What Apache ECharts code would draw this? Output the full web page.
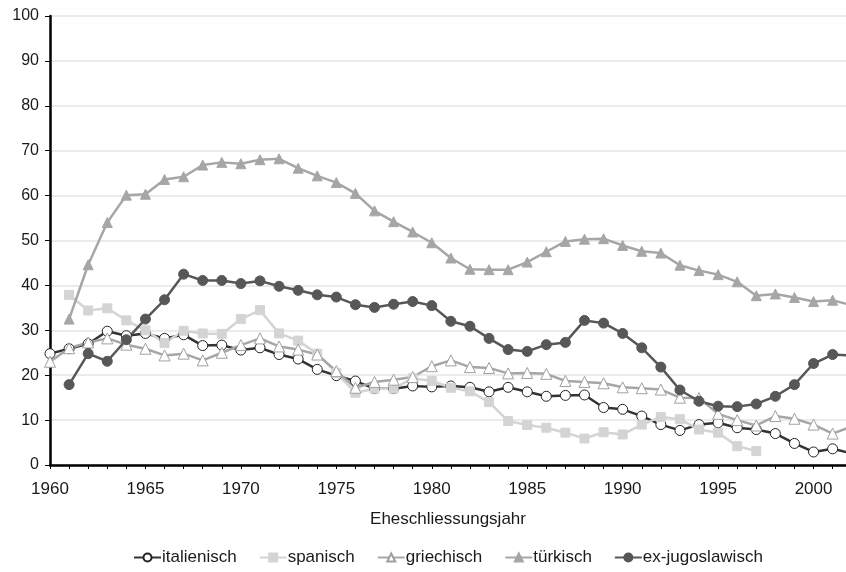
<!DOCTYPE html>
<html>
<head>
<meta charset="utf-8">
<script src="https://cdn.jsdelivr.net/npm/echarts@6/dist/echarts.min.js"></script>
<style>
  html, body { margin: 0; padding: 0; background: #fff; }
  #chart { width: 846px; height: 572px; }
</style>
</head>
<body>
<div id="chart"></div>
<script>
// Jahre 1960 bis 2002
var years = [];
for (var y = 1960; y <= 2002; y++) years.push(y);

var seriesNames = ['italienisch', 'spanisch', 'griechisch', 'türkisch', 'ex-jugoslawisch'];

// Werte pro Jahr (null = kein Wert)
var italienisch = [24.8, 25.9, 27.0, 29.8, 28.8, 29.3, 28.2, 29.0, 26.6, 26.7, 25.6, 26.1, 24.6, 23.6, 21.3,
  19.9, 18.7, 17.0, 17.0, 17.6, 17.4, 17.6, 17.3, 16.3, 17.3, 16.3, 15.3, 15.5, 15.6, 12.8,
  12.4, 10.9, 9.0, 7.7, 9.0, 9.4, 8.3, 7.9, 7.0, 4.8, 2.9, 3.6, 2.6];
var spanisch = [null, 37.9, 34.4, 34.9, 32.2, 30.0, 27.2, 29.9, 29.3, 29.2, 32.5, 34.5, 29.3, 27.7, 24.8,
  20.5, 16.1, 17.0, 17.0, 19.3, 18.7, 17.2, 16.4, 14.0, 9.8, 8.9, 8.3, 7.2, 5.9, 7.3,
  6.8, 9.0, 10.7, 10.2, 7.9, 7.2, 4.2, 3.1, null, null, null, null, null];
var griechisch = [23.0, 26.0, 27.3, 28.2, 26.8, 25.9, 24.4, 24.8, 23.3, 25.0, 26.7, 28.2, 26.4, 25.7, 24.6,
  20.9, 17.2, 18.5, 19.0, 19.6, 22.0, 23.3, 21.8, 21.6, 20.4, 20.5, 20.3, 18.7, 18.5, 18.2,
  17.3, 17.1, 16.8, 15.0, 14.9, 11.4, 10.0, 8.8, 10.9, 10.3, 9.0, 7.0, 8.6];
var tuerkisch = [null, 32.5, 44.6, 54.0, 60.1, 60.3, 63.6, 64.2, 66.8, 67.4, 67.1, 68.0, 68.2, 66.1, 64.4,
  62.9, 60.5, 56.6, 54.2, 51.9, 49.5, 46.1, 43.6, 43.5, 43.5, 45.2, 47.5, 49.8, 50.3, 50.4,
  48.9, 47.6, 47.2, 44.5, 43.3, 42.4, 40.8, 37.7, 38.1, 37.3, 36.4, 36.7, 35.6];
var jugoslawisch = [null, 17.9, 24.8, 23.1, 27.9, 32.5, 36.8, 42.5, 41.1, 41.1, 40.4, 41.0, 39.8, 38.9, 37.9,
  37.4, 35.7, 35.1, 35.8, 36.4, 35.5, 32.0, 30.9, 28.2, 25.7, 25.3, 26.8, 27.3, 32.2, 31.6,
  29.3, 26.1, 21.8, 16.7, 14.2, 13.1, 13.0, 13.6, 15.3, 17.9, 22.6, 24.6, 24.4];

function pairs(vals) {
  return years.map(function (yr, i) { return [yr, vals[i]]; });
}

var chart = echarts.init(document.getElementById('chart'));

var font = 'Liberation Sans, Arial, sans-serif';

function lineSeries(name, vals, lineColor, symbol, fill, border, size) {
  return {
    name: name,
    type: 'line',
    data: pairs(vals),
    symbol: symbol,
    symbolSize: size,
    showAllSymbol: true,
    connectNulls: false,
    clip: true,
    lineStyle: { color: lineColor, width: 2.5 },
    itemStyle: { color: fill, borderColor: border, borderWidth: 1 },
    emphasis: { disabled: true }
  };
}

chart.setOption({
  animation: false,
  backgroundColor: '#ffffff',
  textStyle: { fontFamily: font },
  grid: { left: 50, right: 0, top: 16, bottom: 107, containLabel: false },
  legend: {
    bottom: 1,
    left: 128,
    itemWidth: 27,
    itemHeight: 10,
    itemGap: 22,
    textStyle: { fontSize: 17, color: '#1a1a1a', fontFamily: font, padding: [0, 0, 0, -4] },
    data: seriesNames
  },
  xAxis: {
    type: 'value',
    min: 1960,
    max: 2001.7,
    interval: 1,
    name: 'Eheschliessungsjahr',
    nameLocation: 'middle',
    nameGap: 46,
    nameTextStyle: { fontSize: 17, color: '#1a1a1a' },
    axisLine: { show: true, onZero: false, lineStyle: { color: '#000', width: 2.5 } },
    axisTick: { show: true, length: 4, lineStyle: { color: '#000', width: 1 } },
    axisLabel: {
      fontSize: 17, color: '#1a1a1a', margin: 16,
      showMaxLabel: false,
      formatter: function (v) { return v % 5 === 0 ? String(v) : ''; }
    },
    splitLine: { show: false }
  },
  yAxis: {
    type: 'value',
    min: 0,
    max: 100,
    interval: 10,
    axisLine: { show: true, lineStyle: { color: '#000', width: 2.5 } },
    axisTick: { show: true, length: 5, lineStyle: { color: '#000', width: 1 } },
    axisLabel: { fontSize: 16, color: '#1a1a1a', margin: 11 },
    splitLine: { show: true, lineStyle: { color: '#e4e4e4', width: 1.5 } }
  },
  series: [
    lineSeries('italienisch', italienisch, '#333333', 'circle', '#ffffff', '#222222', 10),
    lineSeries('spanisch', spanisch, '#d4d4d4', 'rect', '#d4d4d4', '#d4d4d4', 9),
    lineSeries('griechisch', griechisch, '#a6a6a6', 'triangle', '#ffffff', '#a0a0a0', 11),
    lineSeries('türkisch', tuerkisch, '#a6a6a6', 'triangle', '#a6a6a6', '#a6a6a6', 10),
    lineSeries('ex-jugoslawisch', jugoslawisch, '#575757', 'circle', '#575757', '#575757', 10)
  ]
});
</script>
</body>
</html>
